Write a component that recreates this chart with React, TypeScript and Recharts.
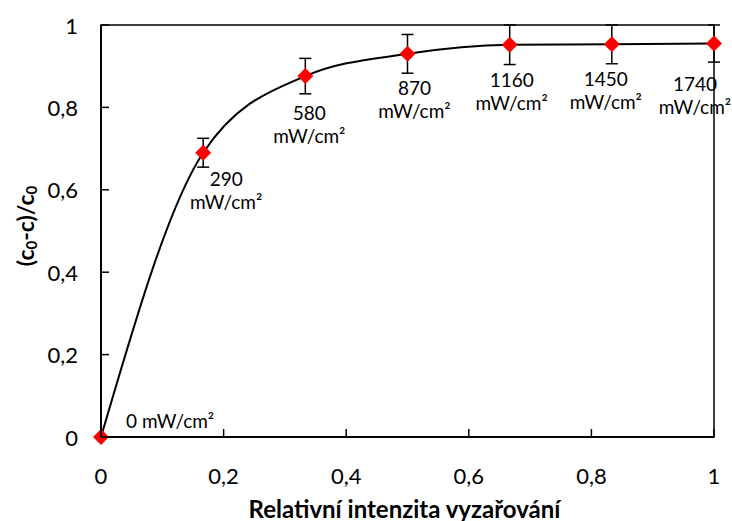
import {
  ComposedChart, Line, Scatter, XAxis, YAxis, ErrorBar, ReferenceArea, Label,
} from "recharts";

// light intensity steps (mW/cm²) and the same as a fraction of the max
const INTENSITY = [0, 290, 580, 870, 1160, 1450, 1740];
const REL_INTENSITY = [0, 0.1667, 0.3333, 0.5, 0.6667, 0.8333, 1];
// (c0-c)/c0 and its std deviation
const REMOVAL = [0, 0.69, 0.876, 0.93, 0.952, 0.953, 0.955];
const REMOVAL_ERR = [0, 0.035, 0.043, 0.047, 0.048, 0.047, 0.045];
const TICKS = [0, 0.2, 0.4, 0.6, 0.8, 1];

// hand placed data labels, same as in the excel original: [dx to text centre, dy to first line]
const LABEL_NUDGE = [[25, -17], [23, 25], [4, 36], [7, 33], [2, 34], [-6, 34], [-19, 39]];

const FONT = "Lato, 'Open Sans', sans-serif";
const fmt = (v: number) => String(v).replace(".", ",");

const rows = REL_INTENSITY.map((x, i) => ({
  i, x, y: REMOVAL[i], err: REMOVAL_ERR[i], mw: INTENSITY[i],
}));

function XTick({ x, y, payload }: any) {
  return (
    <g>
      <line x1={x} x2={x} y1={y} y2={y - 8} stroke="#000" strokeWidth={1.5} />
      <text x={x} y={y + 38} textAnchor="middle" dominantBaseline="central"
        fontFamily={FONT} fontSize={22} fill="#000">{fmt(payload.value)}</text>
    </g>
  );
}

function YTick({ x, y, payload }: any) {
  return (
    <g>
      <line x1={x} x2={x + 8} y1={y} y2={y} stroke="#000" strokeWidth={1.5} />
      <text x={x - 23} y={y} textAnchor="end" dominantBaseline="central"
        fontFamily={FONT} fontSize={22} fill="#000">{fmt(payload.value)}</text>
    </g>
  );
}

function Marker({ cx, cy, payload }: any) {
  const [dx, dy] = LABEL_NUDGE[payload.i];
  const s = 8;
  return (
    <g>
      <polygon points={`${cx},${cy - s} ${cx + s},${cy} ${cx},${cy + s} ${cx - s},${cy}`} fill="#ff0000" />
      {payload.mw === 0 ? (
        <text x={cx + dx} y={cy + dy} dominantBaseline="central" fontFamily={FONT} fontSize={19} fill="#000">
          {payload.mw} mW/cm²
        </text>
      ) : (
        <text x={cx + dx} y={cy + dy} textAnchor="middle" dominantBaseline="central"
          fontFamily={FONT} fontSize={19} fill="#000">
          <tspan x={cx + dx}>{payload.mw}</tspan>
          <tspan x={cx + dx} dy={23}>mW/cm²</tspan>
        </text>
      )}
    </g>
  );
}

function XTitle({ viewBox }: any) {
  return (
    <text x={viewBox.x + viewBox.width / 2 - 3} y={viewBox.y + 71} textAnchor="middle" dominantBaseline="central"
      fontFamily={FONT} fontSize={24} fontWeight="bold" fill="#000">
      Relativní intenzita vyzařování
    </text>
  );
}

function YTitle({ viewBox }: any) {
  const cx = viewBox.x + 25;
  const cy = viewBox.y + 201;
  return (
    <text x={cx} y={cy} transform={`rotate(-90 ${cx} ${cy})`} textAnchor="middle" dominantBaseline="central"
      fontFamily={FONT} fontSize={23} fontWeight="bold" fill="#000">
      (c<tspan fontSize={15} dy={6}>0</tspan><tspan dy={-6}>-c)/c</tspan><tspan fontSize={15} dy={6}>0</tspan>
    </text>
  );
}

export default function App() {
  return (
    <div style={{ position: "absolute", left: 0, top: 0, background: "#fff" }}>
      <ComposedChart width={732} height={521} data={rows} margin={{ top: 25, right: 18, bottom: 0, left: 0 }}>
        <XAxis dataKey="x" type="number" domain={[0, 1]} ticks={TICKS} interval={0}
          height={84} tickSize={0} tickMargin={0} tickLine={false}
          axisLine={{ stroke: "#000", strokeWidth: 2 }} tick={<XTick />}>
          <Label content={<XTitle />} />
        </XAxis>
        <YAxis type="number" domain={[0, 1]} ticks={TICKS} interval={0}
          width={101} tickSize={0} tickMargin={0} tickLine={false}
          axisLine={{ stroke: "#000", strokeWidth: 2 }} tick={<YTick />}>
          <Label content={<YTitle />} />
        </YAxis>
        <ReferenceArea x1={0} x2={1} y1={0} y2={1} fill="none" stroke="#000" strokeWidth={1.5} />
        <Line type="monotone" dataKey="y" stroke="#000" strokeWidth={2} dot={false} activeDot={false}
          isAnimationActive={false} />
        <Scatter dataKey="y" shape={<Marker />} isAnimationActive={false}>
          <ErrorBar dataKey="err" direction="y" width={6} stroke="#000" strokeWidth={1.5} />
        </Scatter>
      </ComposedChart>
    </div>
  );
}
